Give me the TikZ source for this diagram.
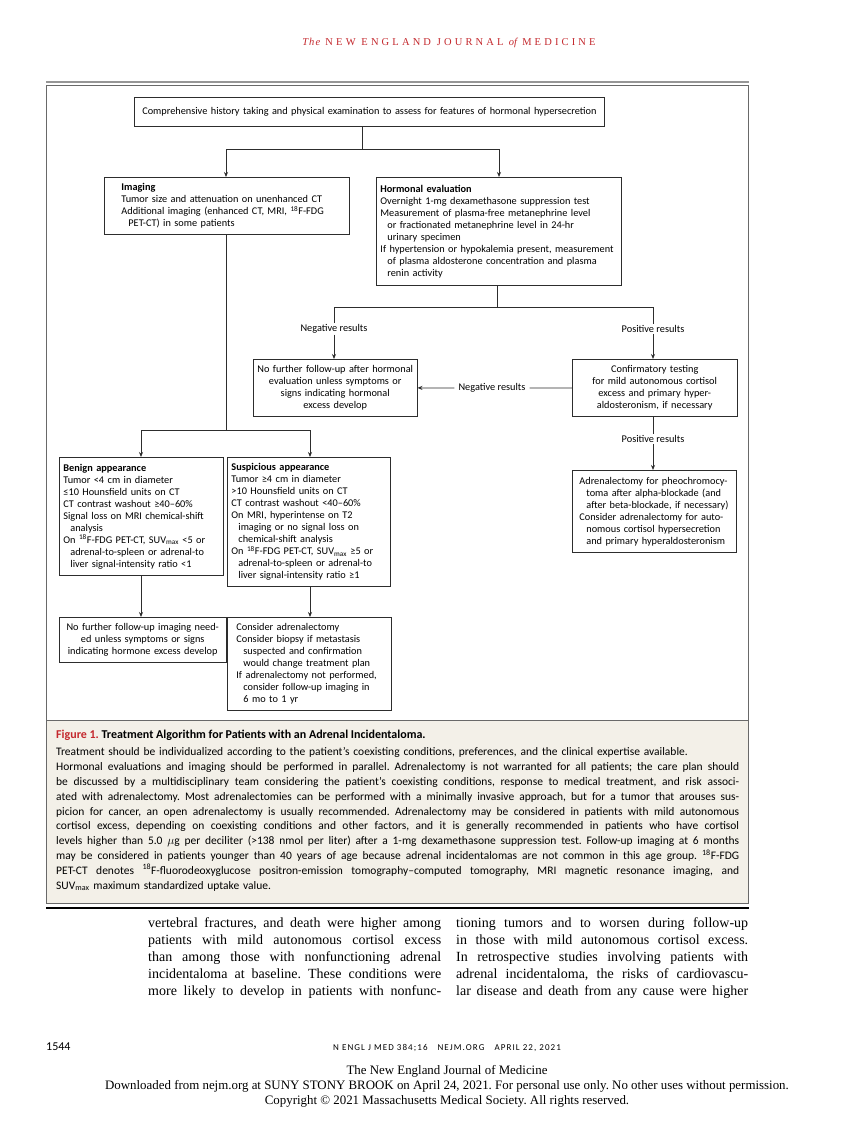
\documentclass[tikz,border=0pt]{standalone}
\usepackage{fontspec}
\setmainfont{Carlito}
\newfontfamily\serifbody{Liberation Serif}
\usetikzlibrary{arrows.meta,calc}
\definecolor{nejmred}{RGB}{196,40,45}
\definecolor{capbg}{RGB}{243,240,232}
\definecolor{framegray}{RGB}{105,105,105}
\definecolor{rulegray}{RGB}{150,150,150}
\definecolor{linec}{RGB}{45,45,45}
\frenchspacing
\newcommand{\ind}{\hspace*{7pt}}
\newcommand{\jl}[2]{{\frenchspacing\spaceskip=0pt\relax\xspaceskip=0pt\relax\makebox[#1][s]{#2}}}
\tikzset{
  fc/.style={font=\fontsize{10.3}{12}\selectfont},
  fbox/.style={fc, draw=linec, line width=0.8pt, inner ysep=2pt},
  lbox/.style={fbox, align=left, anchor=north west},
  cbox/.style={fbox, align=center, anchor=north west},
  conn/.style={draw=linec, line width=0.8pt},
  arr/.style={conn, -{Stealth[length=5pt,width=4pt]}},
  lab/.style={fc, inner sep=1pt},
  captxt/.style={font=\fontsize{11.5}{14.8}\selectfont, inner sep=0pt, anchor=north west, align=left, text width=683pt},
  bodytxt/.style={font=\serifbody\fontsize{14}{17.2}\selectfont, inner sep=0pt, anchor=north west, align=left},
  foot/.style={font=\serifbody\fontsize{12.9}{14}\selectfont, inner sep=0pt},
}
\begin{document}
\begin{tikzpicture}[x=1pt,y=-1pt]
\useasboundingbox (0,0) rectangle (841,1122);
\fill[white] (0,0) rectangle (841,1122);

% header
\node[text=nejmred, font=\fontsize{10.5}{12}\selectfont\serifbody] (hdr) at (449,43)
  {{\itshape\addfontfeature{LetterSpace=10}The}\ \ {\addfontfeature{LetterSpace=30}NEW ENGLAND JOURNAL}\ \ {\itshape of}\ \ {\addfontfeature{LetterSpace=30}MEDICINE}};

% frames
\draw[rulegray, line width=2pt] (46,81.5) -- (749,81.5);
\draw[framegray, line width=1pt] (46,85) rectangle (748,720);
\draw[framegray, line width=1pt, fill=capbg] (46,720) rectangle (748,903);
\draw[black, line width=1.3pt] (46,908) -- (749,908);

% flowchart boxes
\node[cbox, minimum width=470pt, minimum height=29pt, text width=462pt] (top) at (134,97)
  {Comprehensive history taking and physical examination to assess for features of hormonal hypersecretion};

\node[lbox, inner xsep=17pt, minimum width=245pt, minimum height=57pt, text width=211pt] (img) at (104,177)
  {\textbf{Imaging}\\
   Tumor size and attenuation on unenhanced CT\\
   Additional imaging (enhanced CT, MRI, \textsuperscript{18}F-FDG\\
   \ind PET-CT) in some patients};

\node[lbox, inner xsep=4pt, minimum width=245pt, minimum height=108pt, text width=237pt] (hor) at (376,177)
  {\textbf{Hormonal evaluation}\\
   Overnight 1-mg dexamethasone suppression test\\
   Measurement of plasma-free metanephrine level\\
   \ind or fractionated metanephrine level in 24-hr\\
   \ind urinary specimen\\
   \mbox{If hypertension or hypokalemia present, measurement}\\
   \ind of plasma aldosterone concentration and plasma\\
   \ind renin activity};

\node[cbox, minimum width=163pt, minimum height=57pt, text width=157pt] (nofu) at (253,359)
  {No further follow-up after hormonal\\ evaluation unless symptoms or\\ signs indicating hormonal\\ excess develop};

\node[cbox, minimum width=164pt, minimum height=57pt, text width=158pt] (conf) at (572,359)
  {Confirmatory testing\\ for mild autonomous cortisol\\ excess and primary hyper-\\ aldosteronism, if necessary};

\node[lbox, inner xsep=7pt, minimum width=164pt, minimum height=82pt, text width=150pt] (adr) at (572,470)
  {Adrenalectomy for pheochromocy-\\
   \ind toma after alpha-blockade (and\\
   \ind after beta-blockade, if necessary)\\
   Consider adrenalectomy for auto-\\
   \ind nomous cortisol hypersecretion\\
   \ind and primary hyperaldosteronism};

\node[lbox, inner xsep=4pt, minimum width=164pt, minimum height=118pt, text width=156pt] (ben) at (59,457)
  {\textbf{Benign appearance}\\
   Tumor <4 cm in diameter\\
   ≤10 Hounsfield units on CT\\
   CT contrast washout ≥40–60\%\\
   Signal loss on MRI chemical-shift\\
   \ind analysis\\
   On \textsuperscript{18}F-FDG PET-CT, SUV\textsubscript{max} <5 or\\
   \ind adrenal-to-spleen or adrenal-to\\
   \ind liver signal-intensity ratio <1};

\node[lbox, inner xsep=4pt, minimum width=163pt, minimum height=129pt, text width=155pt] (sus) at (227,457)
  {\textbf{Suspicious appearance}\\
   Tumor ≥4 cm in diameter\\
   >10 Hounsfield units on CT\\
   CT contrast washout <40–60\%\\
   On MRI, hyperintense on T2\\
   \ind imaging or no signal loss on\\
   \ind chemical-shift analysis\\
   On \textsuperscript{18}F-FDG PET-CT, SUV\textsubscript{max} ≥5 or\\
   \ind adrenal-to-spleen or adrenal-to\\
   \ind liver signal-intensity ratio ≥1};

\node[cbox, minimum width=164pt, minimum height=45pt, text width=160pt] (nfi) at (59,617)
  {No further follow-up imaging need-\\ ed unless symptoms or signs\\ indicating hormone excess develop};

\node[lbox, inner xsep=9pt, minimum width=164pt, minimum height=93pt, text width=146pt] (cons) at (227,617)
  {Consider adrenalectomy\\
   Consider biopsy if metastasis\\
   \ind suspected and confirmation\\
   \ind would change treatment plan\\
   If adrenalectomy not performed,\\
   \ind consider follow-up imaging in\\
   \ind 6 mo to 1 yr};

% labels
\node[lab] (neg1) at (334,329) {Negative results};
\node[lab] (pos1) at (653,329) {Positive results};
\node[lab, inner xsep=4pt] (neg2) at (492,388) {Negative results};
\node[lab] (pos2) at (653,439) {Positive results};

% junction coordinates
\coordinate (j1) at (362,149);
\coordinate (j1l) at (226,149);
\coordinate (j1r) at (499,149);
\coordinate (j2) at (226,430);
\coordinate (j2l) at (141,430);
\coordinate (j2r) at (310,430);
\coordinate (j3) at (497,307);
\coordinate (j3l) at (334,307);
\coordinate (j3r) at (653,307);

% connectors
\draw[conn] (top.south -| j1) -- (j1);
\draw[conn] (j1l) -- (j1r);
\draw[arr] (j1l) -- (j1l |- img.north);
\draw[arr] (j1r) -- (j1r |- hor.north);

\draw[conn] (img.south -| j2) -- (j2);
\draw[conn] (j2l) -- (j2r);
\draw[arr] (j2l) -- (j2l |- ben.north);
\draw[arr] (j2r) -- (j2r |- sus.north);

\draw[conn] (hor.south -| j3) -- (j3);
\draw[conn] (j3l) -- (j3r);
\draw[conn] (j3l) -- (neg1.north);
\draw[conn] (j3r) -- (pos1.north);
\draw[arr] (neg1.south) -- (neg1.south |- nofu.north);
\draw[arr] (pos1.south) -- (pos1.south |- conf.north);

\draw[conn] (conf.west) -- (neg2.east);
\draw[arr] (neg2.west) -- (nofu.east);
\draw[conn] (conf.south -| pos2) -- (pos2.north);
\draw[arr] (pos2.south) -- (pos2.south |- adr.north);

\draw[arr] (ben.south -| j2l) -- (j2l |- nfi.north);
\draw[arr] (sus.south -| j2r) -- (j2r |- cons.north);

% caption
\node[font=\fontsize{12}{13}\selectfont\bfseries, anchor=base west, inner sep=0pt] (captitle) at (56,738)
  {\textcolor{nejmred}{Figure 1.} Treatment Algorithm for Patients with an Adrenal Incidentaloma.};
\node[captxt] (capbody) at (56,747.5)
  {Treatment should be individualized according to the patient's coexisting conditions, preferences, and the clinical expertise available.\\
   \jl{683pt}{Hormonal evaluations and imaging should be performed in parallel. Adrenalectomy is not warranted for all patients; the care plan should}\\
   \jl{683pt}{be discussed by a multidisciplinary team considering the patient's coexisting conditions, response to medical treatment, and risk associ-}\\
   \jl{683pt}{ated with adrenalectomy. Most adrenalectomies can be performed with a minimally invasive approach, but for a tumor that arouses sus-}\\
   \jl{683pt}{picion for cancer, an open adrenalectomy is usually recommended. Adrenalectomy may be considered in patients with mild autonomous}\\
   \jl{683pt}{cortisol excess, depending on coexisting conditions and other factors, and it is generally recommended in patients who have cortisol}\\
   \jl{683pt}{levels higher than 5.0 $\mu$g per deciliter (>138 nmol per liter) after a 1-mg dexamethasone suppression test. Follow-up imaging at 6 months}\\
   \jl{683pt}{may be considered in patients younger than 40 years of age because adrenal incidentalomas are not common in this age group. \textsuperscript{18}F-FDG}\\
   \jl{683pt}{PET-CT denotes \textsuperscript{18}F-fluorodeoxyglucose positron-emission tomography–computed tomography, MRI magnetic resonance imaging, and}\\
   SUV\textsubscript{max} maximum standardized uptake value.};

% body text
\node[bodytxt, text width=293pt] (colL) at (148,917)
  {\jl{293pt}{vertebral fractures, and death were higher among}\\
   \jl{293pt}{patients with mild autonomous cortisol excess}\\
   \jl{293pt}{than among those with nonfunctioning adrenal}\\
   \jl{293pt}{incidentaloma at baseline. These conditions were}\\
   \jl{293pt}{more likely to develop in patients with nonfunc-}};
\node[bodytxt, text width=292pt] (colR) at (456,917)
  {\jl{292pt}{tioning tumors and to worsen during follow-up}\\
   \jl{292pt}{in those with mild autonomous cortisol excess.}\\
   \jl{292pt}{In retrospective studies involving patients with}\\
   \jl{292pt}{adrenal incidentaloma, the risks of cardiovascu-}\\
   \jl{292pt}{lar disease and death from any cause were higher}};

% footer
\node[font=\fontsize{12}{14}\selectfont, anchor=west, inner sep=0pt] (pgno) at (46,1047) {1544};
\node[font=\fontsize{9}{10}\selectfont\addfontfeature{LetterSpace=12}, inner sep=0pt] (jref) at (447,1048)
  {N ENGL J MED 384;16\hspace{10pt}NEJM.ORG\hspace{10pt}APRIL 22, 2021};
\node[foot] (f1) at (447,1071) {The New England Journal of Medicine};
\node[foot] (f2) at (447,1086) {Downloaded from nejm.org at SUNY STONY BROOK on April 24, 2021. For personal use only. No other uses without permission.};
\node[foot] (f3) at (447,1101) {Copyright © 2021 Massachusetts Medical Society. All rights reserved.};
\end{tikzpicture}
\end{document}
